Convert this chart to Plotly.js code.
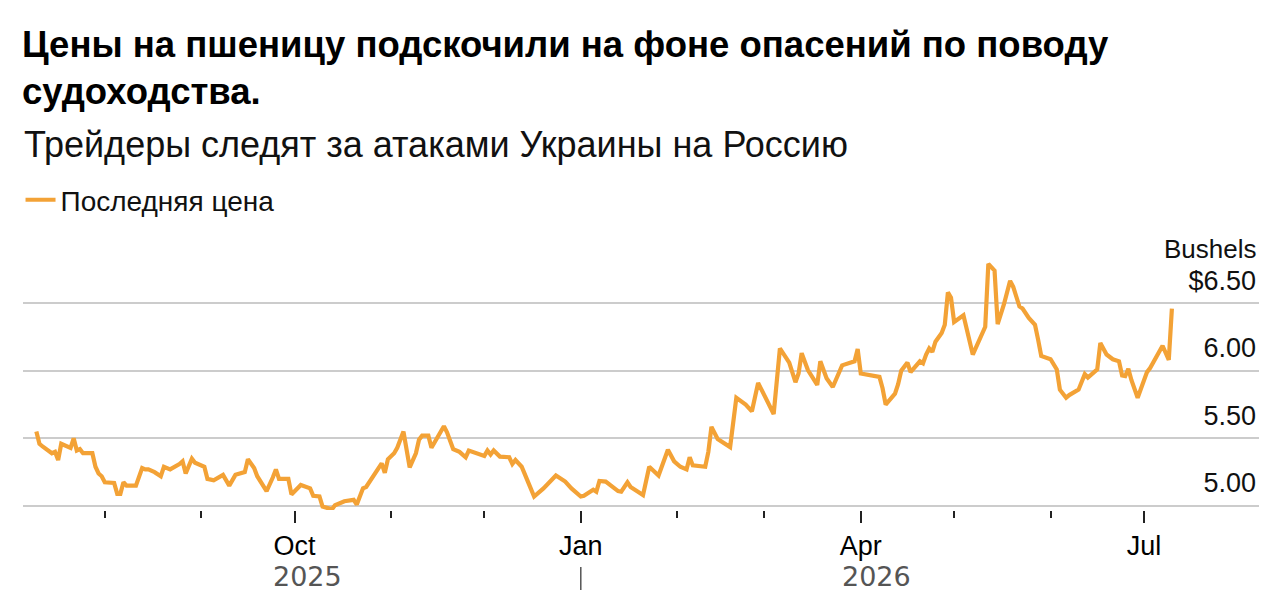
<!DOCTYPE html>
<html>
<head>
<meta charset="utf-8">
<script src="https://cdn.plot.ly/plotly-3.0.1.min.js"></script>
<style>
  html, body { margin: 0; padding: 0; background: #ffffff; }
  #chart { width: 1278px; height: 604px; }
</style>
</head>
<body>
<div id="chart"></div>
<script>
// ---- Data ----
const dates = [
  "2025-07-10","2025-07-11","2025-07-12","2025-07-14","2025-07-15","2025-07-16","2025-07-17","2025-07-18",
  "2025-07-20","2025-07-21","2025-07-22","2025-07-23","2025-07-24","2025-07-25","2025-07-28","2025-07-29",
  "2025-07-30","2025-07-31","2025-08-01","2025-08-04","2025-08-05","2025-08-06","2025-08-07","2025-08-08",
  "2025-08-11","2025-08-13","2025-08-14","2025-08-15","2025-08-17","2025-08-19","2025-08-20","2025-08-22",
  "2025-08-25","2025-08-26","2025-08-27","2025-08-29","2025-08-30","2025-09-02","2025-09-03","2025-09-05",
  "2025-09-08","2025-09-10","2025-09-12","2025-09-15","2025-09-16","2025-09-18","2025-09-19","2025-09-22",
  "2025-09-24","2025-09-25","2025-09-26","2025-09-29","2025-09-30","2025-10-03","2025-10-06","2025-10-07",
  "2025-10-09","2025-10-10","2025-10-13","2025-10-14","2025-10-17","2025-10-20","2025-10-21","2025-10-23",
  "2025-10-24","2025-10-27","2025-10-29","2025-10-30","2025-10-31","2025-11-02","2025-11-03","2025-11-05",
  "2025-11-07","2025-11-09","2025-11-10","2025-11-11","2025-11-13","2025-11-14","2025-11-16","2025-11-18",
  "2025-11-19","2025-11-21","2025-11-23","2025-11-25","2025-11-26","2025-11-29","2025-12-01","2025-12-02",
  "2025-12-03","2025-12-04","2025-12-06","2025-12-09","2025-12-10","2025-12-11","2025-12-13","2025-12-15",
  "2025-12-17","2025-12-20","2025-12-24","2025-12-27","2025-12-29","2026-01-01","2026-01-02","2026-01-05",
  "2026-01-06","2026-01-07","2026-01-09","2026-01-13","2026-01-14","2026-01-16","2026-01-17","2026-01-19",
  "2026-01-21","2026-01-23","2026-01-24","2026-01-26","2026-01-29","2026-01-31","2026-02-02","2026-02-04",
  "2026-02-05","2026-02-06","2026-02-10","2026-02-11","2026-02-12","2026-02-14","2026-02-18","2026-02-20",
  "2026-02-23","2026-02-25","2026-02-27","2026-03-04","2026-03-06","2026-03-09","2026-03-11","2026-03-12",
  "2026-03-13","2026-03-15","2026-03-18","2026-03-19","2026-03-21","2026-03-23","2026-03-26","2026-03-30",
  "2026-03-31","2026-04-01","2026-04-07","2026-04-08","2026-04-09","2026-04-12","2026-04-13","2026-04-14",
  "2026-04-16","2026-04-17","2026-04-20","2026-04-21","2026-04-22","2026-04-23","2026-04-24","2026-04-25",
  "2026-04-27","2026-04-28","2026-04-29","2026-04-30","2026-05-01","2026-05-02","2026-05-04","2026-05-07",
  "2026-05-11","2026-05-12","2026-05-14","2026-05-15","2026-05-17","2026-05-19","2026-05-20","2026-05-22",
  "2026-05-23","2026-05-25","2026-05-27","2026-05-28","2026-05-29","2026-06-01","2026-06-03","2026-06-04",
  "2026-06-06","2026-06-07","2026-06-10","2026-06-12","2026-06-13","2026-06-16","2026-06-17","2026-06-19",
  "2026-06-21","2026-06-23","2026-06-24","2026-06-25","2026-06-26","2026-06-27","2026-06-29","2026-07-02",
  "2026-07-03","2026-07-07","2026-07-09","2026-07-10"
];
const prices = [
  5.55,5.46,5.44,5.41,5.39,5.40,5.34,5.46,
  5.44,5.43,5.50,5.41,5.42,5.39,5.39,5.29,
  5.24,5.22,5.175,5.17,5.09,5.09,5.175,5.15,
  5.15,5.28,5.27,5.27,5.25,5.22,5.29,5.27,
  5.31,5.33,5.24,5.35,5.32,5.29,5.20,5.19,
  5.23,5.15,5.23,5.25,5.345,5.28,5.22,5.11,
  5.21,5.27,5.20,5.20,5.085,5.155,5.13,5.075,
  5.07,4.995,4.975,5.005,5.035,5.045,5.01,5.13,
  5.14,5.24,5.315,5.245,5.345,5.39,5.43,5.55,
  5.285,5.39,5.49,5.52,5.52,5.43,5.51,5.59,
  5.545,5.42,5.40,5.36,5.41,5.39,5.37,5.41,
  5.38,5.41,5.365,5.36,5.31,5.34,5.29,5.18,
  5.07,5.13,5.225,5.18,5.13,5.07,5.075,5.12,
  5.105,5.185,5.18,5.11,5.105,5.175,5.14,5.11,
  5.08,5.29,5.27,5.225,5.415,5.33,5.29,5.27,
  5.36,5.30,5.29,5.40,5.585,5.495,5.435,5.80,
  5.75,5.70,5.91,5.68,6.165,6.06,5.915,5.98,
  6.13,6.005,5.895,6.07,5.945,5.88,6.04,6.07,
  6.16,5.98,5.955,5.87,5.75,5.83,5.90,6.00,
  6.06,5.99,6.07,6.055,6.12,6.165,6.14,6.215,
  6.28,6.34,6.58,6.54,6.36,6.38,6.41,6.12,
  6.325,6.79,6.74,6.345,6.49,6.665,6.62,6.475,
  6.46,6.39,6.34,6.23,6.11,6.085,6.01,5.86,
  5.80,5.82,5.86,5.975,5.95,6.01,6.205,6.12,
  6.085,6.07,5.965,5.96,6.015,5.93,5.80,5.99,
  6.02,6.185,6.08,6.46
];
const yTickVals = [5.0, 5.5, 6.0, 6.5];
const yTickText = ["5.00", "5.50", "6.00", "$6.50"];
const xTickVals = ["2025-10-01", "2026-01-01", "2026-04-01", "2026-07-01"];
const xTickText = ["Oct", "Jan", "Apr", "Jul"];
const yearLabels = ["2025", "2026"];
const yearBoundary = "2026-01-01";
const seriesName = "Последняя цена";
const titleText = "Цены на пшеницу подскочили на фоне опасений по поводу<br>судоходства.";
const subtitleText = "Трейдеры следят за атаками Украины на Россию";
const unitLabel = "Bushels";

// ---- helpers ----
function midDate(a, b) {
  const ta = new Date(a + "T00:00:00Z").getTime();
  const tb = new Date(b + "T00:00:00Z").getTime();
  return new Date((ta + tb) / 2).toISOString().slice(0, 10);
}
const FONT = '"Liberation Sans", Arial, Helvetica, sans-serif';
const ORANGE = "#f3a236";

const trace = {
  type: "scatter",
  mode: "lines",
  x: dates,
  y: prices,
  name: seriesName,
  line: { color: ORANGE, width: 4.2, shape: "linear" },
  hoverinfo: "x+y"
};

const layout = {
  width: 1278,
  height: 604,
  paper_bgcolor: "#ffffff",
  plot_bgcolor: "#ffffff",
  margin: { l: 23, r: 19, t: 230, b: 94, pad: 0 },
  font: { family: FONT, color: "#000000", size: 26 },
  title: {
    text: titleText,
    font: { family: FONT, size: 36.5, weight: 700, color: "#000000" },
    xref: "container", yref: "container",
    x: 22 / 1278, xanchor: "left",
    y: 1 - 57 / 604, yanchor: "top"
  },
  showlegend: true,
  legend: {
    x: -0.002, xanchor: "left",
    y: 1.107, yanchor: "middle",
    orientation: "h",
    bgcolor: "rgba(0,0,0,0)",
    font: { family: FONT, size: 28, color: "#111111" },
    itemwidth: 30
  },
  xaxis: {
    type: "date",
    range: ["2025-07-05 17:00", "2026-08-07"],
    tickmode: "array",
    tickvals: xTickVals,
    ticktext: xTickText,
    ticks: "outside",
    ticklen: 12,
    tickwidth: 1.5,
    tickcolor: "#222222",
    tickfont: { family: FONT, size: 27, color: "#000000" },
    showgrid: false,
    zeroline: false,
    showline: false,
    fixedrange: true,
    minor: {
      ticks: "outside",
      ticklen: 7,
      tickwidth: 1.5,
      tickcolor: "#222222",
      dtick: "M1",
      tick0: "2025-08-01",
      showgrid: false
    }
  },
  yaxis: {
    side: "right",
    range: [4.97, 7.041],
    tickmode: "array",
    tickvals: yTickVals,
    ticktext: yTickText,
    ticklabelposition: "inside top",
    ticklabelshift: -4,
    ticks: "",
    tickfont: { family: FONT, size: 27, color: "#111111" },
    showgrid: true,
    gridcolor: "#cccccc",
    gridwidth: 2,
    zeroline: false,
    showline: false,
    fixedrange: true
  },
  annotations: [
    {
      text: subtitleText,
      xref: "paper", yref: "paper",
      x: -0.001, xanchor: "left",
      y: 1.3036, yanchor: "middle",
      showarrow: false,
      font: { family: FONT, size: 36, color: "#111111" }
    },
    {
      text: unitLabel,
      xref: "paper", yref: "paper",
      x: 1, xanchor: "right",
      y: 0.932, yanchor: "middle",
      showarrow: false,
      font: { family: FONT, size: 26, color: "#111111" }
    },
    {
      text: yearLabels[0],
      xref: "x", yref: "paper",
      x: midDate(dates[0], yearBoundary),
      y: -0.236, yanchor: "middle", xanchor: "center",
      showarrow: false,
      font: { family: '"DejaVu Sans", sans-serif', size: 27, color: "#555555" }
    },
    {
      text: yearLabels[1],
      xref: "x", yref: "paper",
      x: midDate(yearBoundary, dates[dates.length - 1]),
      y: -0.236, yanchor: "middle", xanchor: "center",
      showarrow: false,
      font: { family: '"DejaVu Sans", sans-serif', size: 27, color: "#555555" }
    }
  ],
  shapes: [
    {
      type: "line",
      xref: "x", yref: "paper",
      x0: yearBoundary, x1: yearBoundary,
      y0: -0.204, y1: -0.286,
      line: { color: "#555555", width: 1.5 }
    }
  ]
};

Plotly.newPlot("chart", [trace], layout, { displayModeBar: false, staticPlot: false, responsive: false });
</script>
</body>
</html>
